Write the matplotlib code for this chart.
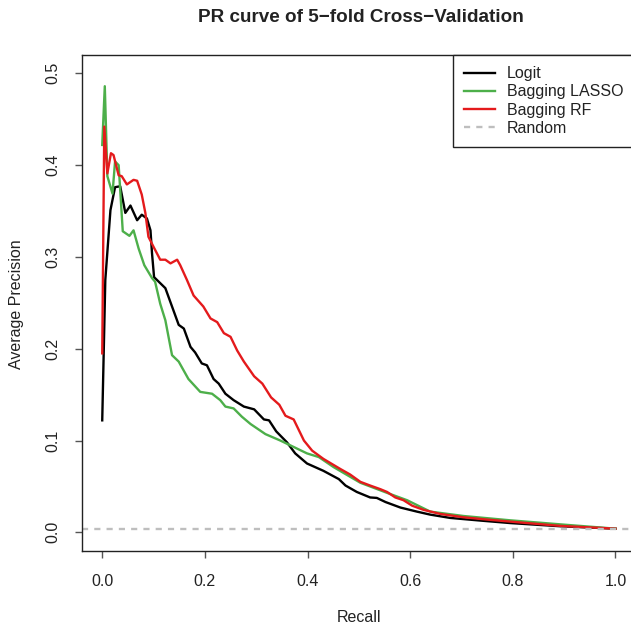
import matplotlib
matplotlib.use("Agg")
import matplotlib.pyplot as plt
from matplotlib.lines import Line2D

plt.rcParams['font.family'] = ['Liberation Sans', 'DejaVu Sans']

# values
logit_recall = [0, 0.006, 0.016, 0.025, 0.035, 0.045, 0.055, 0.068, 0.077, 0.087,
                0.094, 0.097, 0.101, 0.123, 0.136, 0.149, 0.159, 0.172, 0.181, 0.194,
                0.204, 0.217, 0.227, 0.240, 0.256, 0.276, 0.296, 0.315, 0.325, 0.339,
                0.360, 0.376, 0.399, 0.431, 0.461, 0.474, 0.496, 0.522, 0.535, 0.552,
                0.581, 0.613, 0.639, 0.678, 0.737, 0.795, 0.893, 1.0]
logit_prec = [0.122, 0.275, 0.351, 0.376, 0.377, 0.348, 0.356, 0.340, 0.346, 0.342,
              0.329, 0.304, 0.278, 0.266, 0.246, 0.226, 0.222, 0.202, 0.196, 0.184,
              0.182, 0.167, 0.162, 0.151, 0.144, 0.137, 0.134, 0.123, 0.122, 0.110,
              0.098, 0.086, 0.075, 0.067, 0.058, 0.051, 0.044, 0.038, 0.0375, 0.033,
              0.027, 0.0226, 0.0193, 0.0157, 0.0128, 0.0101, 0.0066, 0.004]

lasso_recall = [0, 0.005, 0.010, 0.020, 0.025, 0.032, 0.040, 0.053, 0.061, 0.071,
                0.082, 0.097, 0.103, 0.113, 0.123, 0.136, 0.149, 0.168, 0.191, 0.214,
                0.230, 0.240, 0.256, 0.272, 0.289, 0.318, 0.347, 0.373, 0.399, 0.422,
                0.451, 0.503, 0.555, 0.594, 0.639, 0.704, 0.795, 0.906, 1.0]
lasso_prec = [0.422, 0.486, 0.388, 0.369, 0.404, 0.400, 0.328, 0.323, 0.329, 0.309,
              0.291, 0.277, 0.273, 0.249, 0.231, 0.193, 0.186, 0.167, 0.153, 0.151,
              0.144, 0.137, 0.135, 0.126, 0.118, 0.107, 0.100, 0.093, 0.086, 0.082,
              0.071, 0.054, 0.043, 0.035, 0.0226, 0.0178, 0.0131, 0.0081, 0.004]

rf_recall = [0, 0.004, 0.010, 0.017, 0.022, 0.032, 0.038, 0.048, 0.061, 0.068,
             0.077, 0.084, 0.090, 0.100, 0.113, 0.123, 0.133, 0.146, 0.152, 0.165,
             0.178, 0.197, 0.211, 0.224, 0.237, 0.250, 0.263, 0.276, 0.296, 0.312,
             0.329, 0.345, 0.357, 0.373, 0.393, 0.409, 0.431, 0.464, 0.483, 0.503,
             0.522, 0.542, 0.555, 0.571, 0.587, 0.604, 0.626, 0.659, 0.704, 0.750,
             0.795, 0.893, 1.0]
rf_prec = [0.195, 0.442, 0.391, 0.413, 0.411, 0.389, 0.388, 0.379, 0.384, 0.383,
           0.368, 0.348, 0.322, 0.311, 0.297, 0.297, 0.293, 0.297, 0.291, 0.275,
           0.258, 0.246, 0.233, 0.229, 0.217, 0.213, 0.198, 0.186, 0.170, 0.162,
           0.147, 0.139, 0.127, 0.123, 0.100, 0.089, 0.080, 0.069, 0.063, 0.055,
           0.051, 0.047, 0.044, 0.038, 0.035, 0.029, 0.0245, 0.020, 0.0164, 0.0139,
           0.0117, 0.007, 0.004]

random_level = 0.004
legend_labels = ['Logit', 'Bagging LASSO', 'Bagging RF', 'Random']
colors = ['black', '#4DAF4A', '#E41A1C', '#BEBEBE']

W, H = 631, 628
fig = plt.figure(figsize=(W / 100, H / 100), dpi=100)
ax_left, ax_right = 81.7, 636
ax = fig.add_axes([ax_left / W, 1 - 550.7 / H, (ax_right - ax_left) / W, (550.7 - 55) / H])

lw = 1.7
ax.plot(logit_recall, logit_prec, color=colors[0], lw=lw)
ax.plot(lasso_recall, lasso_prec, color=colors[1], lw=lw)
ax.plot(rf_recall, rf_prec, color=colors[2], lw=lw)
ax.axhline(random_level, color=colors[3], lw=1.7, linestyle=(0, (2.6, 2.6)))

ax.set_xlim(-0.04, 1.04)
ax.set_ylim(-0.02, 0.52)
ax.set_xticks([0, 0.2, 0.4, 0.6, 0.8, 1.0])
ax.set_xticklabels(['0.0', '0.2', '0.4', '0.6', '0.8', '1.0'])
ax.set_yticks([0, 0.1, 0.2, 0.3, 0.4, 0.5])
ax.set_yticklabels(['0.0', '0.1', '0.2', '0.3', '0.4', '0.5'], rotation=90, va='center')
fs = 11.5
ax.tick_params(axis='both', direction='out', length=5, width=1, color='#555555',
               labelsize=fs, labelcolor='#222222')
ax.tick_params(axis='x', pad=12)
ax.tick_params(axis='y', pad=10)
for s in ax.spines.values():
    s.set_color('#222222')
    s.set_linewidth(1)

fig.text(361 / W, 1 - 17 / H, 'PR curve of 5\u2212fold Cross\u2212Validation',
         ha='center', va='center', fontsize=13.6, fontweight='bold', color='#222222')
fig.text(359 / W, 1 - 618 / H, 'Recall', ha='center', va='center',
         fontsize=fs, color='#222222')
fig.text(17 / W, 1 - 304 / H, 'Average Precision', ha='center', va='center',
         rotation=90, fontsize=fs, color='#222222')

handles = [Line2D([], [], color=colors[0], lw=lw),
           Line2D([], [], color=colors[1], lw=lw),
           Line2D([], [], color=colors[2], lw=lw),
           Line2D([], [], color=colors[3], lw=lw, linestyle=(0, (2.6, 2.6)))]
leg_x = (453 - ax_left) / (ax_right - ax_left)
leg = ax.legend(handles, legend_labels, loc='upper left', bbox_to_anchor=(leg_x, 1),
                borderaxespad=0, fancybox=False, edgecolor='#222222', framealpha=1,
                fontsize=fs, handlelength=1.95, handletextpad=0.7,
                labelspacing=0.2, borderpad=0.7)
leg.get_frame().set_linewidth(1)
for t in leg.get_texts():
    t.set_color('#222222')

fig.savefig('out.png', dpi=100)
